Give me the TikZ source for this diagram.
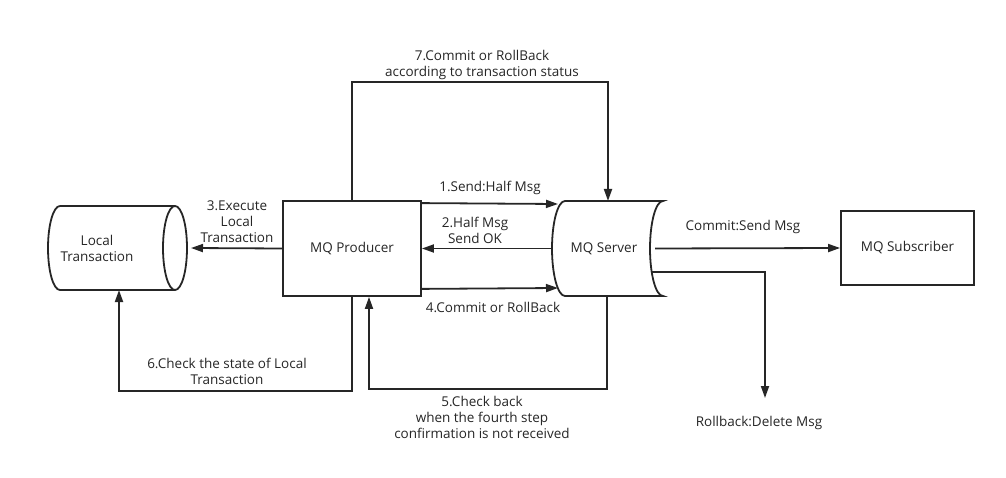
\documentclass[tikz,border=0pt]{standalone}
\usepackage{fontspec}
\setmainfont{Open Sans}
\usetikzlibrary{arrows.meta}
\definecolor{ink}{HTML}{262626}

\begin{document}
\begin{tikzpicture}[x=1pt, y=1pt, line width=1.8pt, color=ink,
        box/.style={draw, rectangle, inner sep=0pt},
        lbl/.style={align=center, inner sep=0pt, font=\fontsize{13.5}{16}\selectfont},
        arr/.style={-{Triangle[length=12pt,width=8pt]}}]
        \useasboundingbox (0,0) rectangle (1006,477);

        % local transaction, a lying cylinder
        \draw (60,271) arc[start angle=90, end angle=270, x radius=12, y radius=42] -- (175,187);
        \draw (60,271) -- (175,271);
        \draw (175,229) ellipse[x radius=12, y radius=42];
        \node[lbl] (local) at (97,229) {Local\\Transaction};
        \coordinate (local-e) at (191,229);
        \coordinate (local-s) at (119,187);

        % mq server
        \draw (565,276) arc[start angle=90, end angle=270, x radius=13, y radius=47.5] -- (663,181)
            arc[start angle=-90, end angle=-270, x radius=13, y radius=47.5] -- cycle;
        \node[lbl] (server) at (604,228.5) {MQ Server};
        \coordinate (server-w) at (552,228.5);
        \coordinate (server-e) at (655,228.5);
        \coordinate (server-a) at (558,273);
        \coordinate (server-b) at (558,189);
        \coordinate (server-r) at (652,205);
        \coordinate (server-n) at (608,276);
        \coordinate (server-s) at (607,181);

        \node[box, lbl, minimum width=138, minimum height=95] (producer) at (352,228.5) {MQ Producer};
        \node[box, lbl, minimum width=133, minimum height=74] (subscriber) at (907.5,229) {MQ Subscriber};
        \coordinate (rollback) at (765,79);

        % messages between producer and server
        \draw[arr] ([yshift=-3]producer.north east) -- (server-a);
        \node[lbl] (l1) at (490,289) {1.Send:Half Msg};
        \draw[arr] (server-w) -- (producer.east);
        \node[lbl] (l2) at (475,247) {2.Half Msg\\Send OK};
        \draw[arr] (producer.west) -- (local-e);
        \node[lbl] (l3) at (237,255) {3.Execute\\Local\\Transaction};
        \draw[arr] ([yshift=8]producer.south east) -- (server-b);
        \node[lbl] (l4) at (493,170) {4.Commit or RollBack};

        % check back loops
        \draw[arr] (server-s) -- ++(0,-93) -| ([xshift=17]producer.south);
        \node[lbl] (l5) at (482,60) {5.Check back\\when the fourth step\\confirmation is not received};
        \draw[arr] (producer.south) -- ++(0,-94) -| (local-s);
        \node[lbl] (l6) at (227,106) {6.Check the state of Local\\Transaction};
        \draw[arr] (producer.north) -- ++(0,118) -| (server-n);
        \node[lbl] (l7) at (482,412) {7.Commit or RollBack\\according to transaction status};

        % delivery
        \draw[arr] (server-e) -- (subscriber.west);
        \node[lbl] (lc) at (743,250) {Commit:Send Msg};
        \draw[arr] (server-r) -| (rollback);
        \node[lbl] (lr) at (759,54) {Rollback:Delete Msg};
\end{tikzpicture}
\end{document}
